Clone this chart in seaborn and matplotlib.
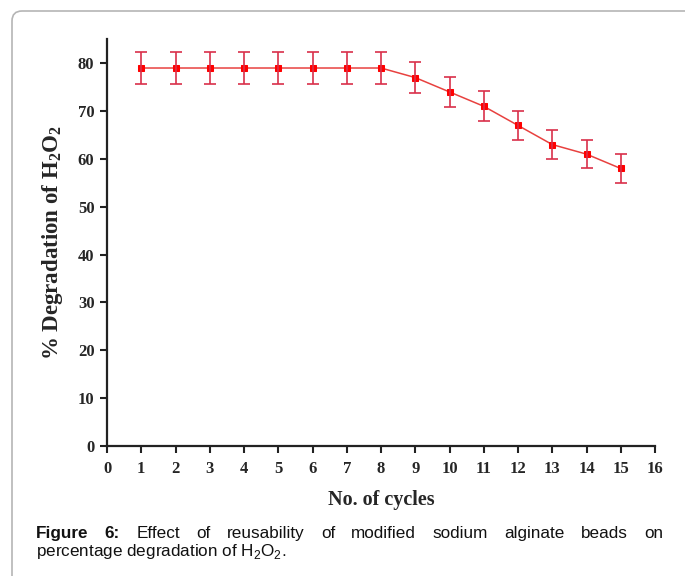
## Libraries
import matplotlib
matplotlib.use("Agg")
import matplotlib.pyplot as plt
from matplotlib.patches import FancyBboxPatch
import seaborn as sns

## Data
cycles = [1, 2, 3, 4, 5, 6, 7, 8, 9, 10, 11, 12, 13, 14, 15]
degradation = [79, 79, 79, 79, 79, 79, 79, 79, 77, 74, 71, 67, 63, 61, 58]
errors = [3.3, 3.3, 3.3, 3.3, 3.3, 3.3, 3.3, 3.3, 3.2, 3.1, 3.1, 3.0, 3.0, 3.0, 3.0]
x_ticks = list(range(0, 17))
y_ticks = [0, 10, 20, 30, 40, 50, 60, 70, 80]

caption_line1 = [("Figure", "bold"), ("6:", "bold"), ("Effect", "normal"), ("of", "normal"),
                 ("reusability", "normal"), ("of", "normal"), ("modified", "normal"),
                 ("sodium", "normal"), ("alginate", "normal"), ("beads", "normal"), ("on", "normal")]
caption_line2 = r"percentage degradation of H$_\mathrm{2}$O$_\mathrm{2}$."

## Style
sns.set_style("ticks")
plt.rcParams['font.family'] = ['Liberation Serif', 'DejaVu Serif']
plt.rcParams['mathtext.fontset'] = 'custom'
plt.rcParams['mathtext.rm'] = 'Liberation Sans'
plt.rcParams['mathtext.bf'] = 'Liberation Serif:bold'

fig = plt.figure(figsize=(6.85, 5.76), dpi=100)

## Background axes in pixel units (frame + caption)
bg = fig.add_axes([0, 0, 1, 1], zorder=-1)
bg.set_xlim(0, 685)
bg.set_ylim(576, 0)
bg.axis('off')
frame = FancyBboxPatch((12, 11), 720, 620, boxstyle="round,pad=0,rounding_size=10",
                       facecolor='white', edgecolor='#b5b5b5', linewidth=1.2)
bg.add_patch(frame)

## Main plot
ax = fig.add_axes([107 / 685, 130 / 576, 548 / 685, 406.7 / 576])
line_red = '#e8413f'
sns.lineplot(x=cycles, y=degradation, marker='s', markersize=5, color=line_red,
             markerfacecolor='#ff0000', markeredgecolor='#ff0000', linewidth=1.1, ax=ax)
ax.errorbar(cycles, degradation, yerr=errors, fmt='none', ecolor='#d9304a',
            elinewidth=1.2, capsize=4, capthick=1.2)

ax.set_xlim(0, 16)
ax.set_ylim(0, 85)
ax.set_xticks(x_ticks)
ax.set_yticks(y_ticks)
ax.set_xticklabels([str(t) for t in x_ticks], fontsize=12, fontweight='bold')
ax.set_yticklabels([str(t) for t in y_ticks], fontsize=12, fontweight='bold')
ax.tick_params(direction='out', length=5, width=1.5, color='#222222')
ax.tick_params(axis='x', pad=6)
ax.tick_params(axis='y', pad=4)
for side in ['top', 'right']:
    ax.spines[side].set_visible(False)
for side in ['left', 'bottom']:
    ax.spines[side].set_linewidth(1.6)
    ax.spines[side].set_color('#222222')

ax.set_xlabel('No. of cycles', fontsize=14.5, fontweight='bold', labelpad=9)
ax.set_ylabel(r'% Degradation of H$_\mathbf{2}$O$_\mathbf{2}$', fontsize=16.5,
              fontweight='bold', labelpad=9)

## Caption, first line justified between the margins
left_x, right_x = 36, 663
texts = []
for word, weight in caption_line1:
    t = bg.text(0, 538, word, fontsize=12.3, fontweight=weight, family='Liberation Sans',
                va='baseline', ha='left', color='#111111')
    texts.append(t)
fig.canvas.draw()
renderer = fig.canvas.get_renderer()
widths = [t.get_window_extent(renderer).width for t in texts]
gap = (right_x - left_x - sum(widths)) / (len(texts) - 1)
pos = left_x
for t, w in zip(texts, widths):
    t.set_x(pos)
    pos += w + gap

bg.text(left_x, 556, caption_line2, fontsize=12.3, family='Liberation Sans',
        va='baseline', ha='left', color='#111111')

plt.savefig('out.png', dpi=100)
